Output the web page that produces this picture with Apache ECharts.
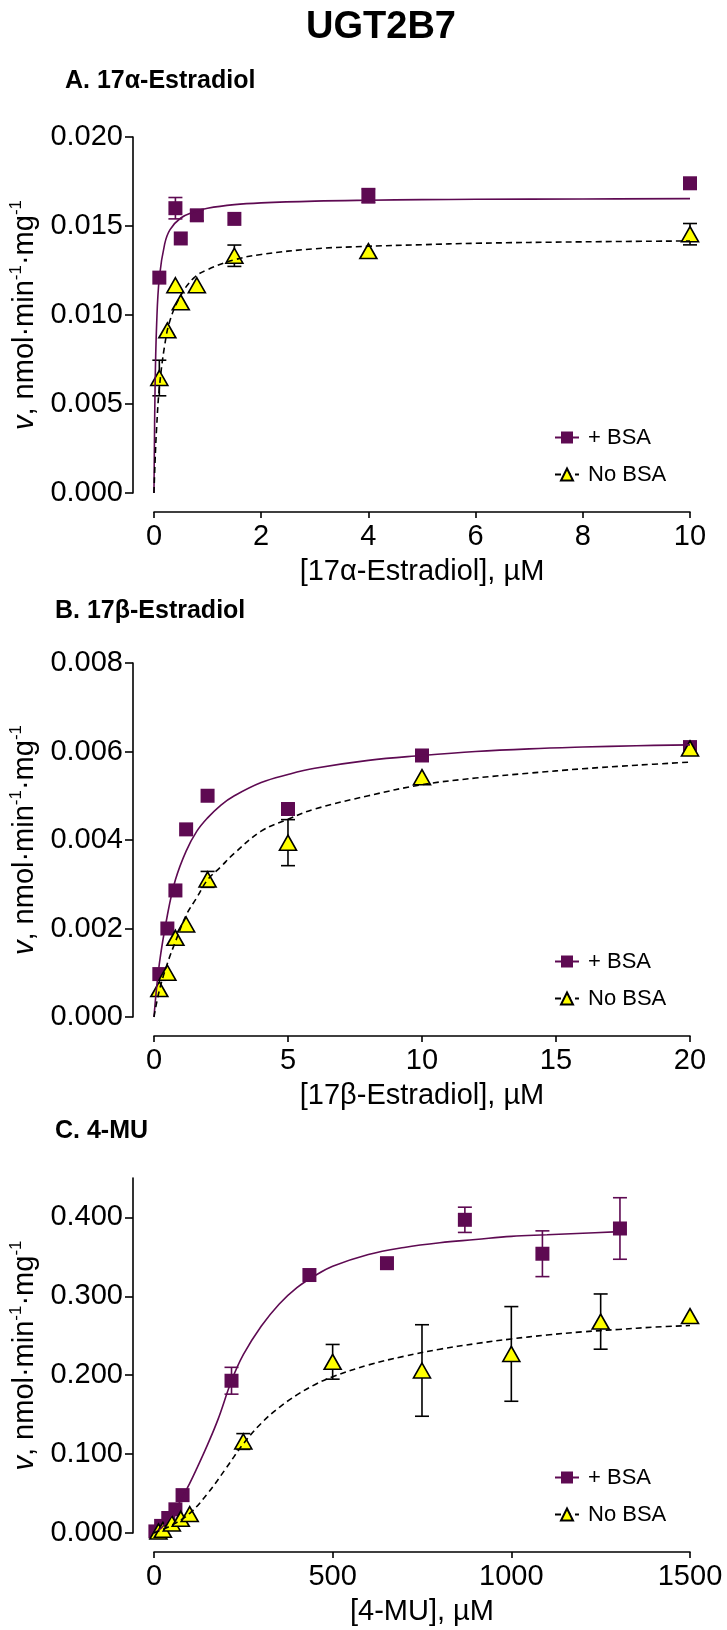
<!DOCTYPE html>
<html>
<head>
<meta charset="utf-8">
<script src="https://cdn.jsdelivr.net/npm/echarts@6/dist/echarts.min.js"></script>
<style>
html,body{margin:0;padding:0;background:#fff;}
#c{width:727px;height:1630px;}
</style>
</head>
<body>
<div id="c"></div>
<script>
// ---------- Panel A: 17α-Estradiol ----------
const aBsaX = [0.1, 0.4, 0.5, 0.8, 1.5, 4, 10];
const aBsaY = [0.0121, 0.0160, 0.0143, 0.0156, 0.0154, 0.0167, 0.0174];
const aBsaErr = [0, 0.0006, 0, 0.0003, 0, 0.0004, 0];
const aNoX = [0.1, 0.25, 0.4, 0.5, 0.8, 1.5, 4, 10];
const aNoY = [0.00646, 0.00914, 0.01167, 0.01071, 0.01167, 0.01333, 0.01359, 0.01454];
const aNoErr = [0.001, 0, 0, 0, 0, 0.0006, 0, 0.0006];
const aFitBsaX = [0, 0.02, 0.05, 0.1, 0.2, 0.3, 0.5, 0.75, 1, 1.5, 2, 3, 4, 5, 6, 8, 10];
const aFitBsaY = [0, 0.0058, 0.0095, 0.0121, 0.0140, 0.0148, 0.01545, 0.0158, 0.0160, 0.0162, 0.0163, 0.0164, 0.01645, 0.01648, 0.0165, 0.01652, 0.01654];
const aFitNoX = [0, 0.02, 0.05, 0.1, 0.2, 0.3, 0.5, 0.75, 1, 1.5, 2, 3, 4, 5, 6, 8, 10];
const aFitNoY = [0, 0.00175, 0.0037, 0.0059, 0.0083, 0.0097, 0.0111, 0.0121, 0.01255, 0.0131, 0.0134, 0.01372, 0.01386, 0.01395, 0.01403, 0.01411, 0.01416];

// ---------- Panel B: 17β-Estradiol ----------
const bX = [0.2, 0.5, 0.8, 1.2, 2, 5, 10, 20];
const bBsaY = [0.00097, 0.0020, 0.00286, 0.00424, 0.0050, 0.0047, 0.00591, 0.0061];
const bBsaErr = [0, 0, 0, 0, 0, 0, 0, 0];
const bNoY = [0.00063, 0.0010, 0.00179, 0.00209, 0.00311, 0.00394, 0.00542, 0.00607];
const bNoErr = [0, 0, 0, 0, 0.00018, 0.00052, 0, 0];
const bFitBsaX = [0, 0.2, 0.5, 0.8, 1.2, 1.6, 2, 2.5, 3, 4, 5, 6, 8, 10, 12, 14, 16, 18, 20];
const bFitBsaY = [0, 0.0012, 0.0023, 0.0031, 0.00375, 0.0042, 0.0045, 0.00479, 0.0050, 0.0053, 0.00548, 0.00562, 0.0058, 0.00591, 0.0060, 0.00606, 0.0061, 0.00613, 0.00615];
const bFitNoX = [0, 0.2, 0.5, 0.8, 1.2, 1.6, 2, 2.5, 3, 4, 5, 6, 8, 10, 12, 14, 16, 18, 20];
const bFitNoY = [0, 0.0006, 0.00121, 0.0017, 0.0023, 0.0027, 0.0031, 0.0034, 0.0037, 0.0042, 0.00447, 0.0047, 0.0050, 0.00525, 0.0054, 0.00551, 0.00561, 0.00569, 0.00576];

// ---------- Panel C: 4-MU ----------
const cBsaX = [4, 20, 40, 60, 80, 217, 435, 652, 870, 1087, 1304];
const cBsaY = [0.002, 0.009, 0.019, 0.030, 0.048, 0.193, 0.327, 0.342, 0.397, 0.354, 0.386];
const cBsaErr = [0, 0, 0, 0, 0, 0.017, 0, 0, 0.016, 0.029, 0.039];
const cNoX = [12.5, 25, 50, 75, 100, 250, 500, 750, 1000, 1250, 1500];
const cNoY = [0.002, 0.004, 0.012, 0.018, 0.024, 0.116, 0.217, 0.206, 0.227, 0.268, 0.275];
const cNoErr = [0, 0, 0, 0, 0, 0.010, 0.022, 0.058, 0.060, 0.035, 0];
const cFitBsaX = [0, 20, 40, 60, 80, 100, 120, 150, 180, 217, 250, 300, 350, 400, 450, 500, 600, 700, 800, 900, 1000, 1100, 1200, 1304];
const cFitBsaY = [0, 0.006, 0.017, 0.030, 0.046, 0.063, 0.082, 0.112, 0.145, 0.193, 0.226, 0.262, 0.290, 0.311, 0.326, 0.338, 0.353, 0.362, 0.368, 0.372, 0.376, 0.378, 0.380, 0.382];
const cFitNoX = [0, 50, 100, 150, 200, 250, 300, 350, 400, 450, 500, 600, 700, 800, 900, 1000, 1100, 1200, 1300, 1400, 1500];
const cFitNoY = [0, 0.010, 0.025, 0.050, 0.081, 0.113, 0.139, 0.159, 0.175, 0.188, 0.198, 0.213, 0.224, 0.233, 0.240, 0.246, 0.251, 0.255, 0.258, 0.261, 0.263];

// ---------- Tick labels ----------
const aXTicks = [0, 2, 4, 6, 8, 10];
const aYTicks = [0, 0.005, 0.010, 0.015, 0.020];
const bXTicks = [0, 5, 10, 15, 20];
const bYTicks = [0, 0.002, 0.004, 0.006, 0.008];
const cXTicks = [0, 500, 1000, 1500];
const cYTicks = [0, 0.1, 0.2, 0.3, 0.4];

const PURPLE = '#5e0a52';
const YELLOW = '#ffff00';
const FONT = '"Liberation Sans", Arial, Helvetica, sans-serif';
const BSA = '+ BSA', NOBSA = 'No BSA';

const zip = (xs, ys) => xs.map((x, i) => [x, ys[i]]);
const errData = (xs, ys, es) => xs.map((x, i) => [x, ys[i] - es[i], ys[i] + es[i], es[i]]).filter(d => d[3] > 0);

const panels = [
  {top: 137, height: 356, xMax: 10, xInt: 2, yMax: 0.020, yInt: 0.005, xTicks: aXTicks, yTicks: aYTicks,
   xName: '[17\u03b1-Estradiol], \u00b5M',
   bsa: [aBsaX, aBsaY, aBsaErr], no: [aNoX, aNoY, aNoErr], fitB: [aFitBsaX, aFitBsaY], fitN: [aFitNoX, aFitNoY]},
  {top: 663, height: 354, xMax: 20, xInt: 5, yMax: 0.008, yInt: 0.002, xTicks: bXTicks, yTicks: bYTicks,
   xName: '[17\u03b2-Estradiol], \u00b5M',
   bsa: [bX, bBsaY, bBsaErr], no: [bX, bNoY, bNoErr], fitB: [bFitBsaX, bFitBsaY], fitN: [bFitNoX, bFitNoY]},
  {top: 1178, height: 355, xMax: 1500, xInt: 500, yMax: 0.45, yInt: 0.1, xTicks: cXTicks, yTicks: cYTicks,
   xName: '[4-MU], \u00b5M',
   bsa: [cBsaX, cBsaY, cBsaErr], no: [cNoX, cNoY, cNoErr], fitB: [cFitBsaX, cFitBsaY], fitN: [cFitNoX, cFitNoY]}
];

const axisLineStyle = {color: '#000', width: 1.6};
const grids = [], xAxes = [], yAxes = [], series = [], legends = [];

function errRender(color) {
  return function (params, api) {
    const x = api.value(0), lo = api.value(1), hi = api.value(2);
    const pH = api.coord([x, hi]), pL = api.coord([x, lo]);
    const w = 7;
    const st = {stroke: color, lineWidth: 1.6};
    return {type: 'group', children: [
      {type: 'line', shape: {x1: pH[0], y1: pH[1], x2: pL[0], y2: pL[1]}, style: st},
      {type: 'line', shape: {x1: pH[0] - w, y1: pH[1], x2: pH[0] + w, y2: pH[1]}, style: st},
      {type: 'line', shape: {x1: pL[0] - w, y1: pL[1], x2: pL[0] + w, y2: pL[1]}, style: st}
    ]};
  };
}

panels.forEach((p, i) => {
  grids.push({left: 148, right: 37, top: p.top, height: p.height});
  xAxes.push({
    type: 'value', gridIndex: i, min: 0, max: p.xMax, interval: p.xInt, offset: 19,
    axisLine: {show: true, onZero: false, lineStyle: axisLineStyle},
    axisTick: {show: true, inside: false, length: 6, lineStyle: axisLineStyle, customValues: p.xTicks},
    axisLabel: {fontSize: 29, color: '#000', fontFamily: FONT, margin: 10, customValues: p.xTicks,
      formatter: v => String(v)},
    splitLine: {show: false},
    name: p.xName, nameLocation: 'middle', nameGap: 45,
    nameTextStyle: {fontSize: 29, color: '#000', fontFamily: FONT}
  });
  yAxes.push({
    type: 'value', gridIndex: i, min: 0, max: p.yMax, interval: p.yInt, offset: 21,
    axisLine: {show: true, onZero: false, lineStyle: axisLineStyle},
    axisTick: {show: true, inside: false, length: 8, lineStyle: axisLineStyle, customValues: p.yTicks},
    axisLabel: {fontSize: 29, color: '#000', fontFamily: FONT, margin: 10, customValues: p.yTicks,
      formatter: v => v.toFixed(3)},
    splitLine: {show: false},
    name: '{i|v}{n|, nmol\u00b7min}{s|-1}{n|\u00b7mg}{s|-1}',
    nameLocation: 'middle', nameGap: 79, nameRotate: 90,
    nameTextStyle: {
      color: '#000', fontFamily: FONT, fontSize: 29,
      rich: {
        i: {fontSize: 29, fontStyle: 'italic', fontFamily: FONT, color: '#000', lineHeight: 34},
        n: {fontSize: 29, fontFamily: FONT, color: '#000', lineHeight: 34},
        s: {fontSize: 17, fontFamily: FONT, color: '#000', lineHeight: 18, verticalAlign: 'top'}
      }
    }
  });

  // fitted curves (first so the legend icons use them)
  series.push({
    name: BSA, type: 'line', xAxisIndex: i, yAxisIndex: i,
    data: zip(p.fitB[0], p.fitB[1]), smooth: 0.4,
    symbol: 'rect', symbolSize: 14, showSymbol: false,
    itemStyle: {color: PURPLE}, lineStyle: {color: PURPLE, width: 1.6}, z: 5, silent: true
  });
  series.push({
    name: NOBSA, type: 'line', xAxisIndex: i, yAxisIndex: i,
    data: zip(p.fitN[0], p.fitN[1]), smooth: 0.4,
    symbol: 'triangle', symbolSize: [17, 15], showSymbol: false,
    itemStyle: {color: YELLOW, borderColor: '#000', borderWidth: 1.6},
    lineStyle: {color: '#000', width: 1.6, type: [6, 4]}, z: 5, silent: true
  });
  // error bars
  series.push({
    name: BSA, type: 'custom', xAxisIndex: i, yAxisIndex: i,
    data: errData(p.bsa[0], p.bsa[1], p.bsa[2]), renderItem: errRender(PURPLE), z: 2, silent: true
  });
  series.push({
    name: NOBSA, type: 'custom', xAxisIndex: i, yAxisIndex: i,
    data: errData(p.no[0], p.no[1], p.no[2]), renderItem: errRender('#000'), z: 2, silent: true
  });
  // points
  series.push({
    name: BSA, type: 'scatter', xAxisIndex: i, yAxisIndex: i,
    data: zip(p.bsa[0], p.bsa[1]), symbol: 'rect', symbolSize: 14,
    itemStyle: {color: PURPLE, opacity: 1}, z: 3, silent: true
  });
  series.push({
    name: NOBSA, type: 'scatter', xAxisIndex: i, yAxisIndex: i,
    data: zip(p.no[0], p.no[1]), symbol: 'triangle', symbolSize: [17, 15],
    itemStyle: {color: YELLOW, borderColor: '#000', borderWidth: 1.6, opacity: 1}, z: 4, silent: true
  });

  legends.push({
    data: [BSA, NOBSA], orient: 'vertical', left: 549, top: p.top + p.height - 72,
    itemWidth: 24, itemHeight: 15, itemGap: 14, selectedMode: false,
    textStyle: {fontSize: 22, color: '#000', fontFamily: FONT, lineHeight: 23, padding: [0, 0, 0, 4]}
  });
});

const titles = [
  {text: 'UGT2B7', left: 376, top: 4, textAlign: 'center',
   textStyle: {fontSize: 38, fontWeight: 'bold', color: '#000', fontFamily: FONT}},
  {text: 'A. 17\u03b1-Estradiol', left: 60, top: 64,
   textStyle: {fontSize: 25, fontWeight: 'bold', color: '#000', fontFamily: FONT}},
  {text: 'B. 17\u03b2-Estradiol', left: 50, top: 594,
   textStyle: {fontSize: 25, fontWeight: 'bold', color: '#000', fontFamily: FONT}},
  {text: 'C. 4-MU', left: 50, top: 1114,
   textStyle: {fontSize: 25, fontWeight: 'bold', color: '#000', fontFamily: FONT}}
];

const chart = echarts.init(document.getElementById('c'), null, {renderer: 'canvas'});
chart.setOption({
  animation: false,
  backgroundColor: '#fff',
  textStyle: {fontFamily: FONT},
  title: titles,
  grid: grids,
  xAxis: xAxes,
  yAxis: yAxes,
  legend: legends,
  series: series
});
</script>
</body>
</html>
